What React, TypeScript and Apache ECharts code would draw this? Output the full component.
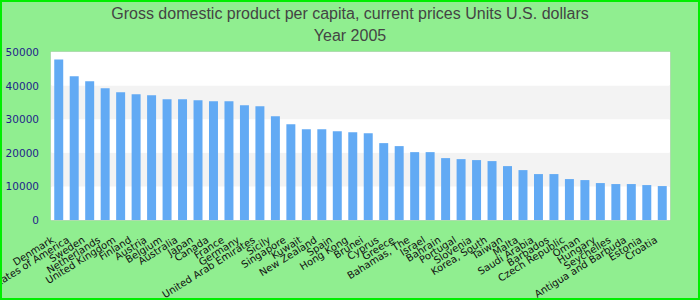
import React, { useEffect, useRef } from "react";
import * as echarts from "echarts";

const countries = [
  "Denmark", "United States of America", "Sweden", "Netherlands", "United Kingdom",
  "Finland", "Austria", "Belgium", "Australia", "Japan", "Canada", "France", "Germany",
  "United Arab Emirates", "Sicily", "Singapore", "Kuwait", "New Zealand", "Spain",
  "Hong Kong", "Brunei", "Cyprus", "Greece", "Bahamas, The", "Israel", "Bahrain",
  "Portugal", "Slovenia", "Korea, South", "Taiwan", "Malta", "Saudi Arabia", "Barbados",
  "Czech Republic", "Oman", "Hungary", "Seychelles", "Antigua and Barbuda", "Estonia", "Croatia",
];

const gdpPerCapita = [
  47800, 42800, 41300, 39200, 38000, 37400, 37100, 35950, 35950, 35650, 35350, 35350, 34150,
  33850, 30900, 28500, 27030, 27030, 26440, 26140, 25850, 22880, 21990, 20200, 20200, 18420,
  18120, 17830, 17530, 16040, 14850, 13670, 13670, 12180, 11880, 10990, 10700, 10700, 10400, 10100,
];

const yTicks = [0, 10000, 20000, 30000, 40000, 50000];

const titleLines = ["Gross domestic product per capita, current prices Units U.S. dollars", "Year 2005"];

export default function App() {
  const ref = useRef<HTMLDivElement>(null);
  useEffect(() => {
    if (!ref.current) return;
    const chart = echarts.init(ref.current, undefined, { renderer: "svg" });
    chart.setOption({
      animation: false,
      backgroundColor: "#90ee90",
      textStyle: { fontFamily: "Liberation Sans, Arial, sans-serif" },
      title: {
        text: titleLines.join("\n"),
        left: "center",
        top: -3,
        textStyle: { fontSize: 16, fontWeight: "normal", color: "#444", lineHeight: 22 },
      },
      graphic: [
        {
          type: "rect",
          shape: { x: 1, y: 1, width: 698, height: 298 },
          style: { fill: "none", stroke: "#00ee00", lineWidth: 2 },
          silent: true,
          z: 100,
        },
      ],
      grid: {
        left: 51,
        right: 30,
        top: 52,
        bottom: 80,
        containLabel: false,
        outerBoundsMode: "none",
        show: true,
        backgroundColor: "#ffffff",
        borderColor: "#cccccc",
        borderWidth: 1,
      },
      xAxis: {
        type: "category",
        data: countries,
        axisLine: { show: false },
        axisTick: { show: false },
        axisLabel: {
          interval: 0,
          rotate: 32,
          fontSize: 10,
          fontFamily: "DejaVu Sans",
          color: "#111",
          margin: 15,
          padding: [0, 7, 0, 0],
        },
      },
      yAxis: {
        type: "value",
        min: yTicks[0],
        max: yTicks[yTicks.length - 1],
        interval: 10000,
        axisLine: { show: false },
        axisTick: { show: false },
        splitLine: { show: false },
        splitArea: { show: true, areaStyle: { color: ["#ffffff", "#f3f3f3"] } },
        axisLabel: {
          fontSize: 10.5,
          fontFamily: "DejaVu Sans",
          color: "#1f1f8a",
          margin: 12,
          formatter: (v: number) => String(v),
        },
      },
      series: [
        {
          type: "bar",
          data: gdpPerCapita,
          barCategoryGap: "42%",
          itemStyle: { color: "#62aaf4" },
        },
      ],
    });
    return () => chart.dispose();
  }, []);
  return (
    <div
      ref={ref}
      style={{ position: "absolute", left: 0, top: 0, width: 700, height: 300 }}
    />
  );
}
